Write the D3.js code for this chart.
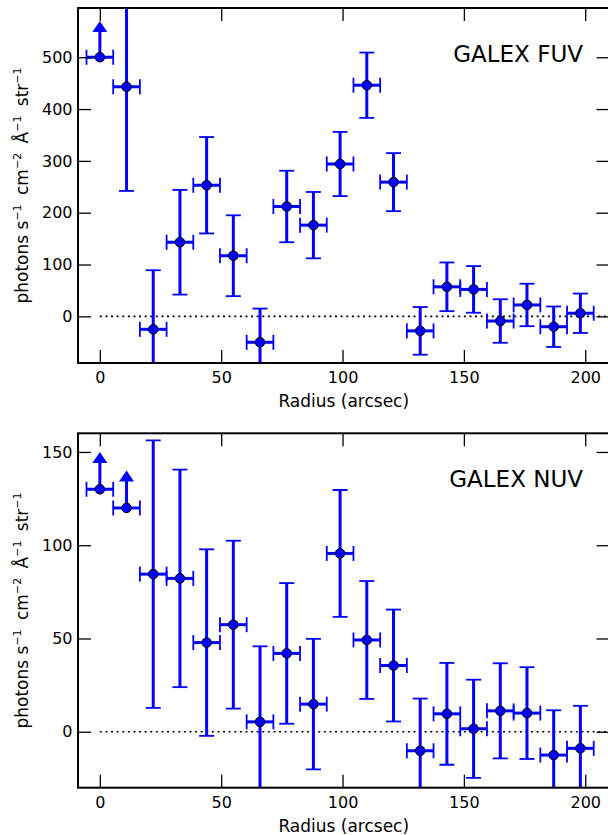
<!DOCTYPE html>
<html>
<head>
<meta charset="utf-8">
<script src="https://cdnjs.cloudflare.com/ajax/libs/d3/7.8.5/d3.min.js"></script>
<style>
  body { margin: 0; background: #fff; }
  svg { display: block; font-family: "DejaVu Sans", sans-serif; }
</style>
</head>
<body>
<script>
// radial bins (arcsec), half-width of each bin
const radius = [0, 11, 22, 33, 44, 55, 66, 77, 88, 99, 110, 121, 132, 143, 154, 165, 176, 187, 198];
const radiusHalfWidth = 5.5;

// GALEX FUV surface brightness
const fuvValue = [500, 443, -25, 143, 253, 117, -50, 212, 176, 294, 446, 259, -28, 57, 52, -9, 22, -20, 6];
const fuvErr   = [70, 201, 114, 101, 93, 78, 65, 69, 64, 62, 63, 56, 46, 47, 45, 42, 41, 39, 38];
const fuvLowerLimit = [true, false, false, false, false, false, false, false, false, false,
                       false, false, false, false, false, false, false, false, false];

// GALEX NUV surface brightness
const nuvValue = [130, 120, 84.5, 82.2, 47.8, 57.4, 5.3, 42, 14.8, 95.6, 49.2, 35.5, -10.2, 9.6, 1.6, 11.2, 10, -12.5, -8.9];
const nuvErr   = [20, 20, 71.7, 58.3, 50, 45, 40.5, 37.7, 35, 34, 31.6, 30, 28, 27.3, 26.3, 25.5, 24.6, 24, 22.8];
const nuvLowerLimit = [true, true, false, false, false, false, false, false, false, false,
                       false, false, false, false, false, false, false, false, false];

const xTicks = [0, 50, 100, 150, 200];
const fuvTicks = [0, 100, 200, 300, 400, 500];
const nuvTicks = [0, 50, 100, 150];

const W = 608, H = 835;
const svg = d3.select("body").append("svg").attr("width", W).attr("height", H);

const left = 78, right = 609.5;
const x = d3.scaleLinear().domain([-9, 210]).range([left, right]);

function panel(id, top, bottom, yDomain, yTicks, vals, errs, lims, title) {
    const y = d3.scaleLinear().domain(yDomain).range([bottom, top]);
    const g = svg.append("g");

    g.append("clipPath").attr("id", id)
        .append("rect").attr("x", left).attr("y", top)
        .attr("width", right - left).attr("height", bottom - top);

    const plot = g.append("g").attr("clip-path", `url(#${id})`);

    // zero line
    plot.append("line")
        .attr("x1", x(0)).attr("x2", x(210))
        .attr("y1", y(0)).attr("y2", y(0))
        .attr("stroke", "#000").attr("stroke-width", 1.6)
        .attr("stroke-dasharray", "2,3.6");

    const pts = radius.map((r, i) => ({r, v: vals[i], e: errs[i], lim: lims[i]}));
    const blue = "#0000ff";
    const cap = 7.5;

    const eb = plot.selectAll("g.eb").data(pts).enter().append("g")
        .attr("stroke", blue).attr("fill", blue);

    // horizontal bars + caps
    eb.append("line")
        .attr("x1", d => x(d.r - radiusHalfWidth)).attr("x2", d => x(d.r + radiusHalfWidth))
        .attr("y1", d => y(d.v)).attr("y2", d => y(d.v))
        .attr("stroke-width", 3);
    eb.append("line")
        .attr("x1", d => x(d.r - radiusHalfWidth)).attr("x2", d => x(d.r - radiusHalfWidth))
        .attr("y1", d => y(d.v) - cap).attr("y2", d => y(d.v) + cap)
        .attr("stroke-width", 1.8);
    eb.append("line")
        .attr("x1", d => x(d.r + radiusHalfWidth)).attr("x2", d => x(d.r + radiusHalfWidth))
        .attr("y1", d => y(d.v) - cap).attr("y2", d => y(d.v) + cap)
        .attr("stroke-width", 1.8);

    // vertical bars
    const sym = eb.filter(d => !d.lim);
    sym.append("line")
        .attr("x1", d => x(d.r)).attr("x2", d => x(d.r))
        .attr("y1", d => y(d.v - d.e)).attr("y2", d => y(d.v + d.e))
        .attr("stroke-width", 3);
    sym.append("line")
        .attr("x1", d => x(d.r) - cap).attr("x2", d => x(d.r) + cap)
        .attr("y1", d => y(d.v - d.e)).attr("y2", d => y(d.v - d.e))
        .attr("stroke-width", 1.8);
    sym.append("line")
        .attr("x1", d => x(d.r) - cap).attr("x2", d => x(d.r) + cap)
        .attr("y1", d => y(d.v + d.e)).attr("y2", d => y(d.v + d.e))
        .attr("stroke-width", 1.8);

    // lower limits: upward arrows
    const lo = eb.filter(d => d.lim);
    lo.append("line")
        .attr("x1", d => x(d.r)).attr("x2", d => x(d.r))
        .attr("y1", d => y(d.v)).attr("y2", d => y(d.v + d.e) + 8)
        .attr("stroke-width", 3);
    lo.append("path")
        .attr("stroke", "none")
        .attr("d", d => {
            const cx = x(d.r), ty = y(d.v + d.e);
            return `M${cx},${ty} L${cx - 7.5},${ty + 11} L${cx + 7.5},${ty + 11} Z`;
        });

    // markers
    plot.selectAll("circle").data(pts).enter().append("circle")
        .attr("cx", d => x(d.r)).attr("cy", d => y(d.v)).attr("r", 4.8)
        .attr("fill", blue).attr("stroke", "#000").attr("stroke-width", 1);

    // axes: ticks drawn inward on all four sides
    const tl = 13;
    g.append("g").attr("transform", `translate(0,${bottom})`)
        .call(d3.axisBottom(x).tickValues(xTicks).tickSizeInner(-tl).tickSizeOuter(0).tickPadding(9))
        .call(a => a.select(".domain").remove());
    g.append("g").attr("transform", `translate(0,${top})`)
        .call(d3.axisTop(x).tickValues(xTicks).tickSizeInner(-tl).tickSizeOuter(0).tickFormat(""))
        .call(a => a.select(".domain").remove());
    g.append("g").attr("transform", `translate(${left},0)`)
        .call(d3.axisLeft(y).tickValues(yTicks).tickSizeInner(-tl).tickSizeOuter(0).tickPadding(5.5))
        .call(a => a.select(".domain").remove());
    g.append("g").attr("transform", `translate(${right},0)`)
        .call(d3.axisRight(y).tickValues(yTicks).tickSizeInner(-tl).tickSizeOuter(0).tickFormat(""))
        .call(a => a.select(".domain").remove());
    g.selectAll(".tick line").attr("stroke", "#000").attr("stroke-width", 1.3);
    g.selectAll(".tick text").attr("font-size", 16).attr("font-family", "DejaVu Sans").attr("fill", "#000");

    g.append("rect").attr("x", left).attr("y", top)
        .attr("width", right - left).attr("height", bottom - top)
        .attr("fill", "none").attr("stroke", "#000").attr("stroke-width", 2);

    // title inside plot
    g.append("text").attr("x", 583).attr("y", top + 53.5)
        .attr("text-anchor", "end").attr("font-size", 23).text(title);

    // x label
    g.append("text").attr("x", (left + right) / 2).attr("y", bottom + 44)
        .attr("text-anchor", "middle").attr("font-size", 17).text("Radius (arcsec)");

    // y label with superscripts
    const yl = g.append("text")
        .attr("transform", `translate(28,${(top + bottom) / 2}) rotate(-90)`)
        .attr("text-anchor", "middle").attr("font-size", 17);
    const parts = [["photons s", "−1"], [" cm", "−2"], [" Å", "−1"], [" str", "−1"]];
    parts.forEach(([base, sup], i) => {
        yl.append("tspan").attr("dy", i === 0 ? 0 : 7).attr("dx", i === 0 ? 0 : 4).text(base);
        yl.append("tspan").attr("dy", -7).attr("font-size", 11).text(sup);
    });
}

panel("clipFuv", 8, 363, [-90, 595], fuvTicks, fuvValue, fuvErr, fuvLowerLimit, "GALEX FUV");
panel("clipNuv", 433.3, 787.7, [-30, 160], nuvTicks, nuvValue, nuvErr, nuvLowerLimit, "GALEX NUV");
</script>
</body>
</html>
